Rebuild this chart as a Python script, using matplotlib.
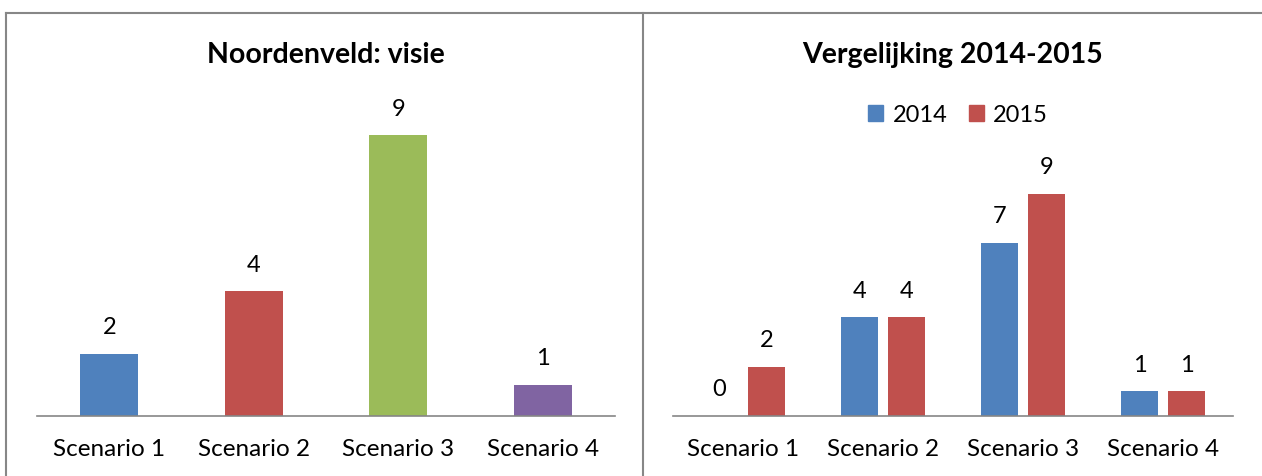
import matplotlib
matplotlib.use('Agg')
import matplotlib.pyplot as plt
import numpy as np
from matplotlib.lines import Line2D
from matplotlib.patches import Patch

plt.rcParams['font.family'] = ['Lato', 'DejaVu Sans']

# data
scenarios = ['Scenario 1', 'Scenario 2', 'Scenario 3', 'Scenario 4']
visie_values = [2, 4, 9, 1]
visie_colors = ['#4F81BD', '#C0504D', '#9BBB59', '#8064A2']
years = ['2014', '2015']
values_2014 = [0, 4, 7, 1]
values_2015 = [2, 4, 9, 1]
year_colors = ['#4F81BD', '#C0504D']

W, H = 1262, 477
fig = plt.figure(figsize=(W / 100, H / 100), dpi=100)


def px_axes(x0, y0, x1, y1):
    # pixel box (top-left origin) -> figure coords
    return fig.add_axes([x0 / W, 1 - y1 / H, (x1 - x0) / W, (y1 - y0) / H])


def style(ax):
    for s in ['top', 'right', 'left']:
        ax.spines[s].set_visible(False)
    ax.spines['bottom'].set_color('#868686')
    ax.spines['bottom'].set_linewidth(1.2)
    ax.set_yticks([])
    ax.tick_params(axis='x', length=0, pad=16, labelsize=17.5)
    ax.set_xlim(-0.5, 3.5)
    ax.set_ylim(0, 10)


# --- left: Noordenveld visie ---
ax1 = px_axes(37, 105, 615, 417)
x = np.arange(len(scenarios))
bars = ax1.bar(x, visie_values, width=0.4, color=visie_colors)
ax1.bar_label(bars, padding=12, fontsize=17)
ax1.set_xticks(x, scenarios)
style(ax1)
fig.text(326 / W, 1 - 55 / H, 'Noordenveld: visie', ha='center', va='center',
         fontsize=20.5, fontweight='bold')

# --- right: Vergelijking 2014-2015 ---
ax2 = px_axes(673, 170, 1233, 417)
off = 0.168
b1 = ax2.bar(x - off, values_2014, width=0.265, color=year_colors[0])
b2 = ax2.bar(x + off, values_2015, width=0.265, color=year_colors[1])
ax2.bar_label(b1, padding=12, fontsize=17)
ax2.bar_label(b2, padding=12, fontsize=17)
ax2.set_xticks(x, scenarios)
style(ax2)
fig.text(953 / W, 1 - 55 / H, 'Vergelijking 2014-2015', ha='center', va='center',
         fontsize=20.5, fontweight='bold')
handles = [Patch(color=c) for c in year_colors]
fig.legend(handles, years, loc='center', bbox_to_anchor=(958 / W, 1 - 116 / H),
           ncol=2, frameon=False, fontsize=17, handlelength=0.65, handleheight=0.65,
           handletextpad=0.4, columnspacing=0.9)

# chart frames
border = '#878787'
fig.add_artist(Line2D([6 / W, 1], [1 - 14 / H, 1 - 14 / H], color=border, lw=1.5))
fig.add_artist(Line2D([6 / W, 6 / W], [0, 1 - 14 / H], color=border, lw=1.5))
fig.add_artist(Line2D([643 / W, 643 / W], [0, 1 - 14 / H], color=border, lw=1.5))

plt.savefig('out.png', dpi=100)
